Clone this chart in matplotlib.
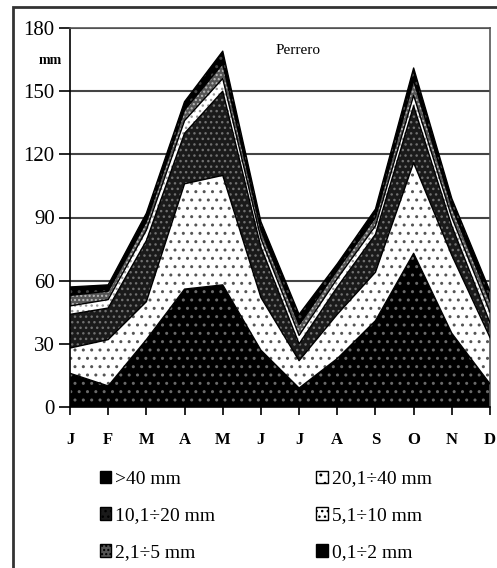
import matplotlib
matplotlib.use("Agg")
import matplotlib.pyplot as plt
from matplotlib.patches import Rectangle, Patch
import numpy as np

plt.rcParams['font.family'] = ['Liberation Serif', 'DejaVu Serif']
plt.rcParams['hatch.linewidth'] = 1.0

months = ['J', 'F', 'M', 'A', 'M', 'J', 'J', 'A', 'S', 'O', 'N', 'D']
labels = ['>40 mm', '20,1÷40 mm', '10,1÷20 mm', '5,1÷10 mm', '2,1÷5 mm', '0,1÷2 mm']

# monthly rainfall (mm) by class of daily amount
gt40 = [16, 10, 32, 56, 58, 27, 9, 23, 41, 73, 35, 11]
r20_40 = [12, 22, 18, 50, 52, 25, 13, 21, 23, 43, 37, 22]
r10_20 = [16, 15, 29, 24, 40, 24, 8, 13, 18, 27, 14, 7]
r5_10 = [4, 4, 5, 6, 6, 4, 4, 4, 4, 5, 4, 5]
r2_5 = [5, 4, 4, 5, 7, 4, 5, 4, 4, 7, 5, 5]
r0_2 = [4, 3, 4, 4, 6, 4, 5, 3, 4, 6, 4, 5]

layers = [gt40, r20_40, r10_20, r5_10, r2_5, r0_2]
faces = ['black', 'white', '#1a1a1a', 'white', '#555555', 'black']
hatch_cols = ['#6a6a6a', '#555555', '#707070', '#999999', '#bbbbbb', '#444444']
hatches = ['..', '..', '...', '...', '....', '..']

fig = plt.figure(figsize=(4.97, 5.68), dpi=100)
ax = fig.add_axes([70 / 497, 161 / 568, 420 / 497, 379 / 568])

x = np.arange(len(months))
bottom = np.zeros(len(months))
handles = []
for vals, fc, hc, h, lab in zip(layers, faces, hatch_cols, hatches, labels):
    top = bottom + np.array(vals)
    ax.fill_between(x, bottom, top, facecolor=fc, edgecolor=hc, hatch=h, linewidth=0, zorder=2)
    ax.plot(x, top, color='black', lw=1.0, zorder=3)
    handles.append(Patch(facecolor=fc, edgecolor='black', hatch=h, label=lab))
    bottom = top

ax.set_xlim(0, 11)
ax.set_ylim(0, 180)
ax.set_yticks(range(0, 181, 30))
ax.set_xticks(x)
ax.set_xticklabels(months, fontsize=12, fontweight='bold')
ax.tick_params(axis='y', labelsize=15, length=8, width=1.2, pad=3)
ax.tick_params(axis='x', length=6, width=1.2, pad=12)
ax.grid(axis='y', color='#444444', lw=1.5, zorder=0)
for s in ax.spines.values():
    s.set_linewidth(1.2)
    s.set_color('#555555')
ax.spines['left'].set_color('black')
ax.spines['bottom'].set_color('black')

ax.text(0.49, 0.94, 'Perrero', transform=ax.transAxes, fontsize=11, ha='left', va='center')
fig.text(50 / 497, 1 - 60 / 568, 'mm', fontsize=10, fontweight='bold', ha='center', va='center')

# legend, filled column by column
order = [0, 2, 4, 1, 3, 5]
leg = fig.legend([handles[i] for i in order], [labels[i] for i in order],
                 ncol=2, loc='upper left', bbox_to_anchor=(84 / 497, 1 - 455 / 568),
                 frameon=False, fontsize=14, handlelength=0.6, handleheight=0.6,
                 handletextpad=0.2, columnspacing=5.2, labelspacing=1.02, borderpad=0.3)

# outer frame
fig.patches.append(Rectangle((13 / 497, -0.1), 1.2, 1 - 7 / 568 + 0.1, transform=fig.transFigure,
                             fill=False, edgecolor='#333333', lw=2, zorder=0))

fig.savefig('out.png', dpi=100)
